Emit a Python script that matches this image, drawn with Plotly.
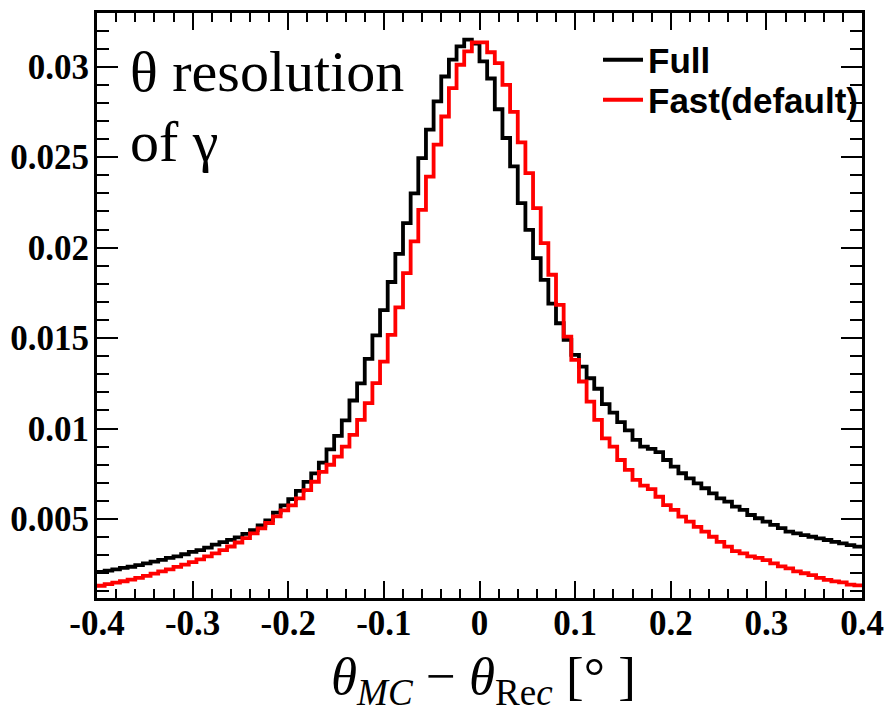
import plotly.graph_objects as go

# ---------------- data ----------------
x_min = -0.4
x_max = 0.4
n_bins = 100

full_values = [
    0.00208, 0.00215, 0.00222, 0.00230, 0.00236, 0.00245, 0.00255, 0.00264, 0.00274, 0.00285,
    0.00293, 0.00305, 0.00318, 0.00328, 0.00342, 0.00358, 0.00372, 0.00385, 0.00398, 0.00418,
    0.00438, 0.00464, 0.00492, 0.00535, 0.00575, 0.00610, 0.00655, 0.00705, 0.00752, 0.00812,
    0.00885, 0.00960, 0.01045, 0.01155, 0.01250, 0.01385, 0.01515, 0.01655, 0.01810, 0.01965,
    0.02135, 0.02300, 0.02495, 0.02652, 0.02808, 0.02946, 0.03039, 0.03112, 0.03150, 0.03128,
    0.03030, 0.02935, 0.02765, 0.02606, 0.02449, 0.02246, 0.02098, 0.01942, 0.01822, 0.01690,
    0.01582, 0.01490, 0.01407, 0.01342, 0.01278, 0.01220, 0.01135, 0.01088, 0.01035, 0.00990,
    0.00937, 0.00900, 0.00888, 0.00870, 0.00826, 0.00789, 0.00753, 0.00725, 0.00697, 0.00670,
    0.00642, 0.00614, 0.00596, 0.00568, 0.00550, 0.00522, 0.00504, 0.00485, 0.00467, 0.00449,
    0.00430, 0.00421, 0.00411, 0.00402, 0.00393, 0.00384, 0.00374, 0.00365, 0.00356, 0.00347,
]

fast_values = [
    0.00131, 0.00140, 0.00148, 0.00156, 0.00165, 0.00175, 0.00186, 0.00198, 0.00210, 0.00222,
    0.00235, 0.00248, 0.00262, 0.00277, 0.00293, 0.00310, 0.00328, 0.00348, 0.00370, 0.00394,
    0.00420, 0.00448, 0.00478, 0.00515, 0.00548, 0.00575, 0.00614, 0.00660, 0.00706, 0.00760,
    0.00800, 0.00845, 0.00900, 0.00965, 0.01048, 0.01140, 0.01251, 0.01370, 0.01518, 0.01670,
    0.01859, 0.02035, 0.02209, 0.02393, 0.02569, 0.02725, 0.02882, 0.03011, 0.03085, 0.03135,
    0.03135, 0.03080, 0.03020, 0.02900, 0.02750, 0.02582, 0.02412, 0.02218, 0.02025, 0.01850,
    0.01684, 0.01508, 0.01380, 0.01260, 0.01149, 0.01048, 0.00946, 0.00900, 0.00826, 0.00771,
    0.00716, 0.00685, 0.00665, 0.00623, 0.00577, 0.00550, 0.00513, 0.00485, 0.00457, 0.00430,
    0.00402, 0.00374, 0.00347, 0.00322, 0.00310, 0.00293, 0.00285, 0.00273, 0.00255, 0.00238,
    0.00227, 0.00210, 0.00200, 0.00190, 0.00174, 0.00164, 0.00155, 0.00150, 0.00137, 0.00133,
]

series_names = ["Full", "Fast(default)"]
series_colors = ["#000000", "#ff0000"]

x_tick_vals = [-0.4, -0.3, -0.2, -0.1, 0.0, 0.1, 0.2, 0.3, 0.4]
x_tick_text = ["-0.4", "-0.3", "-0.2", "-0.1", "0", "0.1", "0.2", "0.3", "0.4"]
y_tick_vals = [0.005, 0.01, 0.015, 0.02, 0.025, 0.03]
y_tick_text = ["0.005", "0.01", "0.015", "0.02", "0.025", "0.03"]

# ---------------- figure ----------------
bin_w = (x_max - x_min) / n_bins
edges = [x_min + i * bin_w for i in range(n_bins + 1)]

W, H = 885, 714
ml, mr, mt, mb = 97, 23, 13, 116
pw, ph = W - ml - mr, H - mt - mb


def px_x(px):
    return (px - ml) / pw


def px_y(py):
    return (H - mb - py) / ph


fig = go.Figure()
legend_ids = ["legend", "legend2"]
for name, vals, col, lg in zip(series_names, [full_values, fast_values], series_colors, legend_ids):
    fig.add_trace(go.Scatter(
        x=edges,
        y=list(vals) + [vals[-1]],
        mode="lines",
        line=dict(color=col, width=3.8, shape="hv"),
        name=name,
        legend=lg,
    ))

tickfont = dict(family="Liberation Serif", size=35, color="black", weight="bold")
legfont = dict(family="Liberation Sans", size=35, color="black", weight="bold")

fig.update_layout(
    width=W, height=H,
    margin=dict(l=ml, r=mr, t=mt, b=mb, pad=0, autoexpand=False),
    paper_bgcolor="white", plot_bgcolor="white",
    showlegend=True,
    legend=dict(
        x=px_x(598), y=px_y(60), xanchor="left", yanchor="middle",
        bgcolor="rgba(0,0,0,0)", borderwidth=0, font=legfont, itemwidth=40,
    ),
    legend2=dict(
        x=px_x(598), y=px_y(100), xanchor="left", yanchor="middle",
        bgcolor="rgba(0,0,0,0)", borderwidth=0, font=legfont, itemwidth=40,
    ),
    xaxis=dict(
        range=[x_min, x_max], showgrid=False, zeroline=False, automargin=False,
        showline=True, linecolor="black", linewidth=3, mirror="ticks",
        ticks="inside", ticklen=17, tickwidth=2, tickcolor="black",
        tickvals=x_tick_vals, ticktext=x_tick_text, tickfont=tickfont,
        ticklabelstandoff=-8,
        minor=dict(dtick=0.02, tick0=0, ticks="inside", ticklen=9, tickwidth=2,
                   tickcolor="black", showgrid=False),
    ),
    yaxis=dict(
        range=[0.000633, 0.03297], showgrid=False, zeroline=False, automargin=False,
        showline=True, linecolor="black", linewidth=3, mirror="ticks",
        ticks="inside", ticklen=21, tickwidth=2, tickcolor="black",
        tickvals=y_tick_vals, ticktext=y_tick_text, tickfont=tickfont,
        ticklabelstandoff=-2,
        minor=dict(dtick=0.001, tick0=0, ticks="inside", ticklen=12, tickwidth=2,
                   tickcolor="black", showgrid=False),
    ),
)

# in-plot label (two lines)
fig.add_annotation(
    xref="paper", yref="paper",
    x=px_x(128), y=px_y(37), xanchor="left", yanchor="top",
    text="θ resolution", showarrow=False, align="left",
    font=dict(family="Liberation Serif", size=58, color="black"),
)
fig.add_annotation(
    xref="paper", yref="paper",
    x=px_x(128), y=px_y(107), xanchor="left", yanchor="top",
    text="of γ", showarrow=False, align="left",
    font=dict(family="Liberation Serif", size=58, color="black"),
)

# x-axis title
fig.add_annotation(
    xref="paper", yref="paper",
    x=px_x(483), y=px_y(645), xanchor="center", yanchor="top",
    text="<i>θ</i><sub><i>MC</i></sub> − <i>θ</i><sub>Re<i>c</i></sub> [°&nbsp;]",
    showarrow=False,
    font=dict(family="Liberation Serif", size=53, color="black"),
)

fig.write_html("out.html")
